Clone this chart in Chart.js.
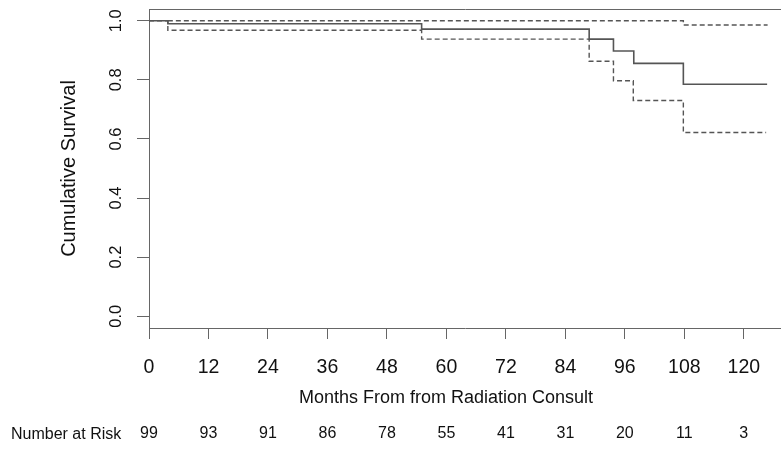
<!DOCTYPE html>
<html>
<head>
<meta charset="utf-8">
<script src="https://cdn.jsdelivr.net/npm/chart.js@4/dist/chart.umd.min.js"></script>
<style>
  html, body { margin: 0; padding: 0; background: #ffffff; }
  #wrap { width: 781px; height: 449px; position: relative; }
</style>
</head>
<body>
<div id="wrap"><canvas id="c" width="781" height="449"></canvas></div>
<script>
// ---- data ----
const survTimes  = [0, 3.8, 55, 88.8, 93.7, 97.8, 107.8, 124.7];
const survValues = [1, 0.99, 0.972, 0.938, 0.898, 0.856, 0.785, 0.785];
const upperTimes  = [3.8, 107.8, 124.8];
const upperValues = [1, 0.986, 0.986];
const lowerTimes  = [0, 3.8, 55, 88.8, 93.7, 97.7, 107.8, 124.5];
const lowerValues = [1, 0.968, 0.938, 0.863, 0.797, 0.73, 0.622, 0.622];
const xTickValues = [0, 12, 24, 36, 48, 60, 72, 84, 96, 108, 120];
const yTickValues = [0, 0.2, 0.4, 0.6, 0.8, 1.0];
const riskCounts  = [99, 93, 91, 86, 78, 55, 41, 31, 20, 11, 3];
const xTitle = 'Months From from Radiation Consult';
const yTitle = 'Cumulative Survival';
const riskTitle = 'Number at Risk';

const FONT = "'Liberation Sans', Arial, sans-serif";
const LINE = '#555555';
const AXIS = '#666666';
const TEXT = '#111111';

function pts(t, v) { return t.map((x, i) => ({ x: x, y: v[i] })); }

const textPlugin = {
  id: 'extraText',
  afterDraw(chart) {
    const ctx = chart.ctx;
    ctx.save();
    ctx.fillStyle = TEXT;
    ctx.textBaseline = 'alphabetic';
    ctx.font = '18px ' + FONT;
    ctx.textAlign = 'center';
    ctx.fillText(xTitle, 446, 403);
    ctx.font = '16px ' + FONT;
    ctx.textAlign = 'left';
    ctx.fillText(riskTitle, 11, 439);
    ctx.restore();
  }
};

function noPad(s) { s.paddingTop = 0; s.paddingBottom = 0; s.paddingLeft = 0; s.paddingRight = 0; }

new Chart(document.getElementById('c'), {
  type: 'line',
  data: {
    datasets: [
      { data: pts(survTimes, survValues), borderColor: LINE, borderWidth: 1.6, stepped: 'before', pointRadius: 0, fill: false, xAxisID: 'x', yAxisID: 'y' },
      { data: pts(upperTimes, upperValues), borderColor: LINE, borderWidth: 1.4, borderDash: [5, 3], stepped: 'before', pointRadius: 0, fill: false, xAxisID: 'x', yAxisID: 'y' },
      { data: pts(lowerTimes, lowerValues), borderColor: LINE, borderWidth: 1.4, borderDash: [5, 3], stepped: 'before', pointRadius: 0, fill: false, xAxisID: 'x', yAxisID: 'y' }
    ]
  },
  options: {
    responsive: false,
    animation: false,
    layout: { padding: 0 },
    plugins: { legend: { display: false }, tooltip: { enabled: false }, title: { display: false } },
    scales: {
      x: {
        type: 'linear', position: 'bottom', weight: 0,
        min: 0, max: 127.5,
        afterBuildTicks: s => { s.ticks = xTickValues.map(v => ({ value: v })); },
        afterFit: s => { s.height = 82; noPad(s); },
        border: { display: true, color: AXIS, width: 1 },
        grid: { display: true, drawOnChartArea: false, drawTicks: true, tickLength: 11, color: AXIS, lineWidth: 1 },
        ticks: { font: { family: FONT, size: 19.5 }, color: TEXT, padding: 17, maxRotation: 0, minRotation: 0, autoSkip: false,
                 callback: v => String(v) }
      },
      x2: {
        type: 'linear', position: 'bottom', weight: 1,
        min: 0, max: 127.5,
        afterBuildTicks: s => { s.ticks = xTickValues.map(v => ({ value: v })); },
        afterFit: s => { s.height = 39; noPad(s); },
        border: { display: false },
        grid: { display: false, drawTicks: false },
        ticks: { font: { family: FONT, size: 16 }, color: TEXT, padding: 14, maxRotation: 0, minRotation: 0, autoSkip: false,
                 callback: (v, i) => String(riskCounts[i]) }
      },
      xTop: {
        type: 'linear', position: 'top',
        min: 0, max: 127.5,
        afterFit: s => { s.height = 9; noPad(s); },
        border: { display: true, color: AXIS, width: 1 },
        grid: { display: false, drawTicks: false },
        ticks: { display: false }
      },
      y: {
        type: 'linear', position: 'left',
        min: -0.04, max: 1.04,
        afterBuildTicks: s => { s.ticks = yTickValues.map(v => ({ value: v })); },
        afterFit: s => { s.width = 149; noPad(s); },
        border: { display: true, color: AXIS, width: 1 },
        grid: { display: true, drawOnChartArea: false, drawTicks: true, tickLength: 12, color: AXIS, lineWidth: 1 },
        ticks: { font: { family: FONT, size: 16.5 }, color: TEXT, padding: 9, minRotation: 90, maxRotation: 90, crossAlign: 'center',
                 callback: v => Number(v).toFixed(1) },
        title: { display: true, text: yTitle, font: { family: FONT, size: 20 }, color: TEXT, padding: { top: 57, bottom: 0 } }
      }
    }
  },
  plugins: [textPlugin]
});
</script>
</body>
</html>
